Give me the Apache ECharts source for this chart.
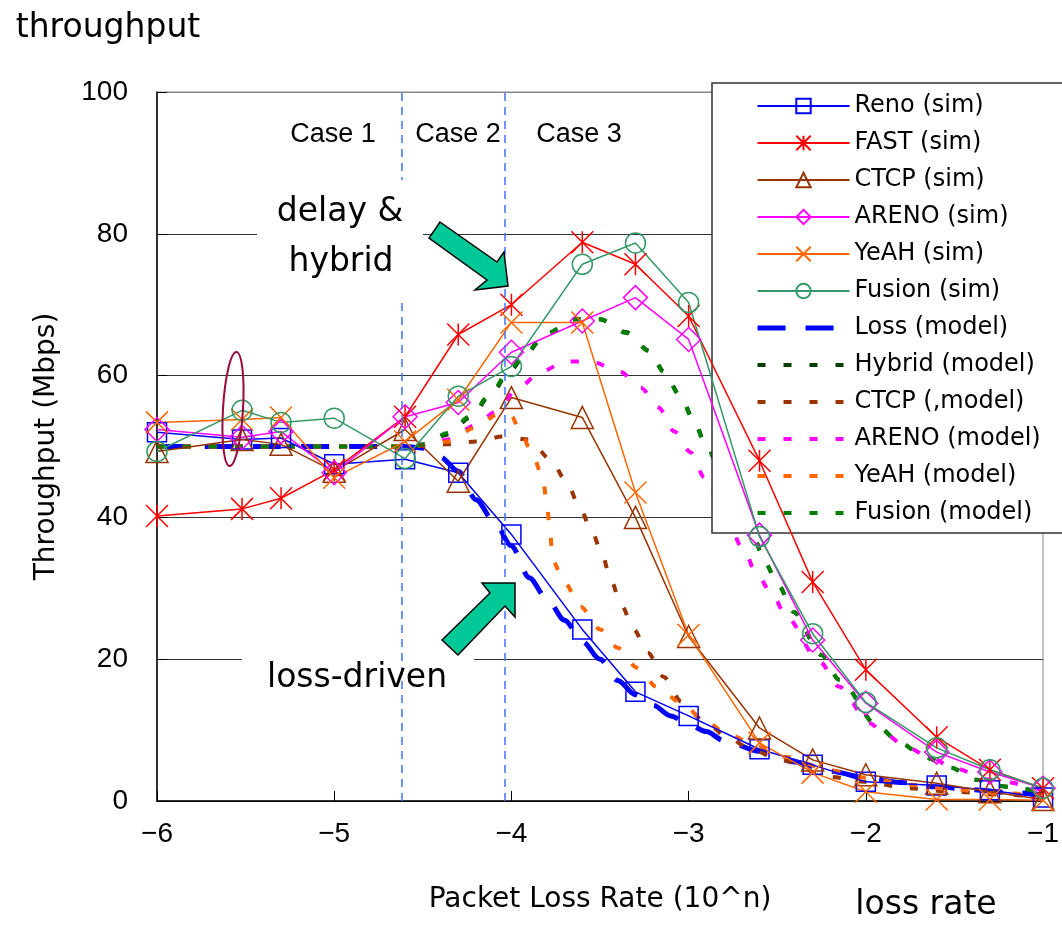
<!DOCTYPE html>
<html>
<head>
<meta charset="utf-8">
<script src="https://cdn.jsdelivr.net/npm/echarts@6/dist/echarts.min.js"></script>
<style>
  html, body { margin: 0; padding: 0; background: #fff; }
  #chart { width: 1062px; height: 927px; }
</style>
</head>
<body>
<div id="chart"></div>
<script>
// Packet loss rate exponents (10^n) at which each protocol was simulated
const simX = [-6, -5.52, -5.3, -5, -4.6, -4.3, -4, -3.6, -3.3, -3, -2.6, -2.3, -2, -1.6, -1.3, -1];

// Simulated throughput (Mbps)
const renoSim   = [52.0, 51.0, 51.2, 47.5, 48.2, 46.3, 37.6, 24.2, 15.4, 12.0, 7.3, 5.1, 2.7, 2.2, 1.5, 0.5];
const fastSim   = [40.2, 41.2, 42.7, 46.7, 54.2, 65.8, 70.0, 78.8, 75.7, 68.4, 48.0, 30.9, 18.5, 9.0, 4.4, 1.8];
const ctcpSim   = [49.3, 51.0, 50.3, 46.5, 52.4, 45.1, 56.9, 54.1, 40.0, 23.2, 10.3, 5.8, 3.7, 2.5, 1.3, 0.2];
const arenoSim  = [52.4, 51.3, 52.1, 46.3, 54.2, 56.2, 63.3, 67.7, 71.0, 65.1, 37.5, 22.7, 13.8, 6.9, 4.1, 1.8];
const yeahSim   = [53.4, 53.8, 54.1, 45.6, 50.7, 56.6, 67.5, 67.5, 43.5, 23.4, 8.2, 4.0, 1.3, 0.2, 0.2, 0.1];
const fusionSim = [49.3, 55.1, 53.4, 54.0, 48.3, 57.1, 61.3, 75.7, 78.7, 70.3, 37.3, 23.6, 13.9, 7.5, 4.4, 1.8];

// Model curves: each has its own sample positions
const lossModelX = [-6, -4.6, -4.5, -4.4, -4.3, -4.2, -4.1, -4.0, -3.9, -3.8, -3.7, -3.6, -3.5, -3.4, -3.3, -3.2, -3.1, -3.0, -2.9, -2.8, -2.6, -2.4, -2.2, -2.0, -1.8, -1.6, -1.4, -1.2, -1.0];
const lossModelY = [50, 50, 49.8, 48.5, 46.5, 42.5, 39.5, 36.0, 31.5, 28.5, 25.5, 22.5, 20.0, 17.0, 15.0, 13.5, 12.0, 10.8, 9.8, 8.5, 7.0, 5.5, 4.2, 3.3, 2.6, 2.0, 1.6, 1.2, 0.9];

const hybridModelX = [-6, -4.55, -4.5, -4.36, -4.23, -4.12, -4.01, -3.92, -3.81, -3.64, -3.5, -3.35, -3.22, -3.14, -3.05, -2.97, -2.91, -2.8, -2.7, -2.63, -2.57, -2.49, -2.41, -2.25, -2.15, -1.93, -1.81, -1.66, -1.52, -1.38, -1.2, -1.0];
const hybridModelY = [50, 50, 50.2, 51.7, 54.1, 57.2, 60.6, 63.0, 65.8, 67.9, 67.9, 66.1, 63.5, 60.6, 57.3, 53.8, 50.7, 45.5, 40.5, 37.1, 33.6, 30.3, 26.7, 20.6, 17.1, 10.5, 8.2, 6.1, 4.7, 3.0, 2.0, 1.2];

const ctcpModelX = [-6, -4.6, -4.37, -4.2, -4.05, -3.9, -3.78, -3.69, -3.62, -3.55, -3.49, -3.44, -3.38, -3.31, -3.23, -3.14, -3.04, -2.91, -2.78, -2.66, -2.49, -2.2, -2.0, -1.76, -1.5, -1.25, -1.0];
const ctcpModelY = [50, 50, 50.3, 50.7, 51.4, 51.0, 48.2, 45.1, 41.8, 38.3, 35.0, 31.2, 27.7, 24.2, 20.9, 17.5, 14.0, 11.2, 9.0, 7.5, 5.8, 3.4, 2.7, 1.8, 1.3, 0.9, 0.6];

const arenoModelX = [-6, -4.6, -4.45, -4.36, -4.2, -4.09, -3.96, -3.83, -3.69, -3.55, -3.39, -3.27, -3.17, -3.08, -2.99, -2.91, -2.8, -2.69, -2.62, -2.52, -2.45, -2.26, -2.15, -1.98, -1.9, -1.77, -1.64, -1.5, -1.3, -1.0];
const arenoModelY = [50, 50, 50.4, 51.0, 53.0, 54.9, 58.3, 60.6, 62.0, 62.0, 60.6, 58.3, 55.5, 52.1, 49.2, 45.6, 40.5, 35.5, 32.2, 28.8, 26.0, 19.6, 16.1, 11.0, 9.6, 7.6, 6.2, 4.6, 3.0, 1.5];

const yeahModelX = [-6, -4.6, -4.45, -4.36, -4.2, -4.08, -4.0, -3.95, -3.88, -3.82, -3.8, -3.78, -3.77, -3.7, -3.61, -3.5, -3.4, -3.29, -3.18, -3.04, -2.91, -2.77, -2.6, -2.45, -2.2, -2.0, -1.75, -1.5, -1.25, -1.0];
const yeahModelY = [50, 50, 50.3, 50.7, 52.7, 54.5, 54.3, 52.1, 48.9, 45.3, 41.5, 37.9, 34.0, 30.8, 27.4, 24.2, 21.6, 18.8, 16.1, 13.8, 11.3, 9.3, 7.6, 6.2, 4.3, 3.3, 2.3, 1.6, 1.1, 0.8];

const fusionModelX = [-6, -4.55, -4.5, -4.36, -4.23, -4.12, -4.01, -3.92, -3.81, -3.64, -3.5, -3.35, -3.22, -3.14, -3.05, -2.97, -2.91, -2.8, -2.7, -2.63, -2.57, -2.49, -2.41, -2.25, -2.15, -1.93, -1.81, -1.66, -1.52, -1.38, -1.2, -1.0];
const fusionModelY = [50, 50, 50.3, 51.9, 54.3, 57.4, 60.8, 63.2, 65.9, 68.0, 68.0, 66.0, 63.4, 60.5, 57.2, 53.6, 50.5, 45.3, 40.3, 37.0, 33.6, 30.3, 26.7, 20.6, 17.1, 10.5, 8.2, 6.1, 4.7, 3.0, 2.0, 1.2];

// Regime boundaries (log10 of loss rate) and the y-axis ticks
const caseBounds = [-4.62, -4.04];
const caseLabels = ['Case 1', 'Case 2', 'Case 3'];
const yTicks = { min: 0, max: 100, step: 20 };

const pairs = (xs, ys) => xs.map((x, i) => [x, ys[i]]);

// Hollow-marker line for simulated results
function simSeries(name, ys, color, symbol, size) {
  return {
    name, type: 'line', z: 4,
    data: pairs(simX, ys),
    symbol, symbolSize: size,
    lineStyle: { color, width: 1.5 },
    itemStyle: { color: 'rgba(0,0,0,0)', borderColor: color, borderWidth: 1.5 },
    emphasis: { disabled: true }
  };
}

// Dotted analytic curve
function modelSeries(name, xs, ys, color, dash, width) {
  return {
    name, type: 'line', z: 3,
    data: pairs(xs, ys),
    symbol: 'none', showSymbol: false,
    smooth: 0.3, smoothMonotone: 'x',
    lineStyle: { color, width, type: dash, cap: 'butt' },
    itemStyle: { color },
    emphasis: { disabled: true }
  };
}

const asterisk = 'path://M0,0L20,20M0,20L20,0M10,0L10,20';
const cross = 'path://M0,0L20,20M0,20L20,0';
const dots = [8, 18];

const lossSeries = modelSeries('Loss (model)', lossModelX, lossModelY, '#0000ff', [28, 20], 5);
lossSeries.markLine = {
  silent: true, symbol: 'none', label: { show: false },
  lineStyle: { color: '#3f72ff', width: 1.5, type: [8, 6] },
  data: caseBounds.map(v => ({ xAxis: v }))
};

const series = [
  simSeries('Reno (sim)', renoSim, '#0000ff', 'rect', 19),
  simSeries('FAST (sim)', fastSim, '#ff0000', asterisk, 22),
  simSeries('CTCP (sim)', ctcpSim, '#993300', 'triangle', 22),
  simSeries('ARENO (sim)', arenoSim, '#ff00ff', 'diamond', 24),
  simSeries('YeAH (sim)', yeahSim, '#ff6600', cross, 22),
  simSeries('Fusion (sim)', fusionSim, '#339966', 'circle', 20),
  lossSeries,
  modelSeries('Hybrid (model)', hybridModelX, hybridModelY, '#003d00', dots, 4),
  modelSeries('CTCP (,model)', ctcpModelX, ctcpModelY, '#993300', dots, 4),
  modelSeries('ARENO (model)', arenoModelX, arenoModelY, '#ff00ff', dots, 4),
  modelSeries('YeAH (model)', yeahModelX, yeahModelY, '#ff6600', dots, 4),
  modelSeries('Fusion (model)', fusionModelX, fusionModelY, '#008000', dots, 4)
];

// Legend entries: model curves show only their dash pattern
const legendData = series.map(s => {
  if (s.symbol !== 'none') return { name: s.name };
  return {
    name: s.name,
    itemStyle: { color: 'rgba(0,0,0,0)', borderWidth: 0, opacity: 0 },
    lineStyle: { width: s.lineStyle.width, type: s.lineStyle.type, color: s.lineStyle.color, cap: 'butt' }
  };
});

const handFont = 'DejaVu Sans';
const note = (text, x, y, size, family) => ({
  type: 'text', x, y, z: 20,
  style: { text, fill: '#000', font: size + 'px "' + (family || handFont) + '"', align: 'center', verticalAlign: 'middle' }
});

const chart = echarts.init(document.getElementById('chart'), null, { renderer: 'canvas' });
chart.setOption({
  animation: false,
  backgroundColor: '#ffffff',
  grid: { left: 157, right: 17, top: 92, bottom: 126, show: true, borderColor: '#888', borderWidth: 1 },
  xAxis: {
    type: 'value', min: -6, max: -1, interval: 1,
    name: 'Packet Loss Rate (10^n)', nameLocation: 'middle', nameGap: 85,
    nameTextStyle: { fontFamily: 'DejaVu Sans', fontSize: 28, color: '#000' },
    axisLine: { lineStyle: { color: '#000', width: 1.5 } },
    axisTick: { inside: true, length: 10, lineStyle: { color: '#000' } },
    axisLabel: { fontFamily: 'Liberation Sans', fontSize: 28, color: '#000', margin: 19,
      formatter: v => String(v).replace('-', '\u2212') },
    splitLine: { show: false }
  },
  yAxis: {
    type: 'value', min: yTicks.min, max: yTicks.max, interval: yTicks.step,
    name: 'Throughput (Mbps)', nameLocation: 'middle', nameGap: 96, nameRotate: 90,
    nameTextStyle: { fontFamily: 'DejaVu Sans', fontSize: 28, color: '#000' },
    axisLine: { show: true, lineStyle: { color: '#000', width: 1.5 } },
    axisTick: { show: true, inside: true, length: 10, lineStyle: { color: '#000' } },
    axisLabel: { fontFamily: 'Liberation Sans', fontSize: 28, color: '#000', margin: 29 },
    splitLine: { show: true, lineStyle: { color: ['#333', '#333', '#333', '#333', '#333', '#888'], width: 1 } }
  },
  legend: {
    orient: 'vertical', left: 712, top: 83,
    itemWidth: 92, itemHeight: 18, itemGap: 13,
    padding: [11, 40, 8, 43],
    backgroundColor: '#fff', borderColor: '#333', borderWidth: 1.5, borderRadius: 0,
    textStyle: { fontFamily: 'DejaVu Sans', fontSize: 24, color: '#000' },
    selectedMode: false,
    data: legendData
  },
  series,
  graphic: [
    // white panels behind the callouts
    { type: 'rect', z: 6, shape: { x: 257, y: 180, width: 166, height: 117 }, style: { fill: '#fff' } },
    { type: 'rect', z: 1, shape: { x: 242, y: 645, width: 232, height: 60 }, style: { fill: '#fff' } },
    // arrows
    { type: 'polygon', z: 10,
      shape: { points: [[440, 222], [497, 262], [504, 252], [508, 286], [475, 290], [487, 280], [429, 238]] },
      style: { fill: '#00c896', stroke: '#000', lineWidth: 1.5 } },
    { type: 'polygon', z: 10,
      shape: { points: [[442, 640], [490, 593], [482, 583], [515, 583], [515, 617], [505, 606], [458, 655]] },
      style: { fill: '#00c896', stroke: '#000', lineWidth: 1.5 } },
    // ring around the low-loss cluster
    { type: 'ellipse', z: 10, rotation: -0.06, x: 233, y: 409, originX: 0, originY: 0,
      shape: { cx: 0, cy: 0, rx: 10, ry: 57 },
      style: { fill: 'none', stroke: '#9b0a3c', lineWidth: 2 } },
    // case labels
    note(caseLabels[0], 333, 135, 27, 'Liberation Sans'),
    note(caseLabels[1], 458, 135, 27, 'Liberation Sans'),
    note(caseLabels[2], 579, 135, 27, 'Liberation Sans'),
    // callouts
    note('throughput', 108, 28, 33),
    note('delay &', 340, 212, 33),
    note('hybrid', 341, 262, 33),
    note('loss-driven', 357, 678, 33),
    note('loss rate', 926, 905, 33)
  ]
});
</script>
</body>
</html>
